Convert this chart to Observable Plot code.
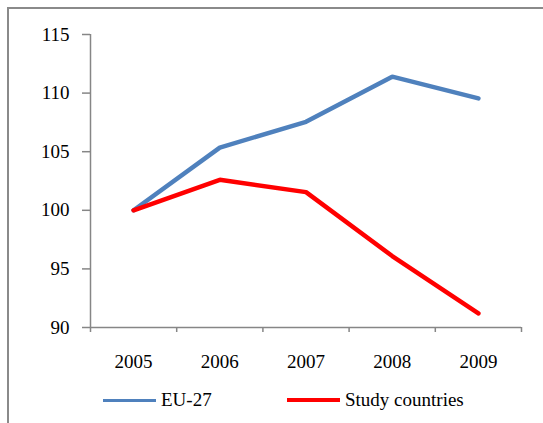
<!DOCTYPE html>
<html>
<head>
<meta charset="utf-8">
<script src="https://cdn.jsdelivr.net/npm/d3@7"></script>
<script src="https://cdn.jsdelivr.net/npm/@observablehq/plot@0.6"></script>
<style>
  html, body { margin: 0; padding: 0; background: #fff; }
  #wrap { position: relative; width: 543px; height: 423px; overflow: hidden; font-family: 'Liberation Serif', serif; }
  #frame { position: absolute; left: 7px; top: 7px; width: 600px; height: 500px; border: 2px solid #8a8a8a; box-sizing: border-box; }
  #chart { position: absolute; left: 0; top: 0; }
  #chart svg text { font-family: 'Liberation Serif', serif !important; }
  .leg { position: absolute; top: 389px; font-size: 19px; color: #000; line-height: 22px; font-family: 'Liberation Serif', serif; }
  .sw { position: absolute; top: 399px; height: 3px; }
</style>
</head>
<body>
<div id="wrap">
  <div id="frame"></div>
  <div id="chart"></div>
</div>
<script>
const years = [2005, 2006, 2007, 2008, 2009];
const eu27 = [100, 105.35, 107.55, 111.4, 109.55];
const study = [100, 102.6, 101.55, 96.1, 91.2];
const yTicks = [90, 95, 100, 105, 110, 115];
const seriesNames = ["EU-27", "Study countries"];
const seriesColors = ["#4F81BD", "#FF0000"];

const data = [
  ...years.map((y, i) => ({year: y, value: eu27[i], series: seriesNames[0]})),
  ...years.map((y, i) => ({year: y, value: study[i], series: seriesNames[1]}))
];
const bounds = [...years.map(y => y - 0.5), years[years.length - 1] + 0.5];
const axisColor = "#868686";

const chart = Plot.plot({
  width: 543,
  height: 423,
  marginLeft: 90,
  marginRight: 22,
  marginTop: 34,
  marginBottom: 96,
  style: {fontSize: "19px", background: "transparent", color: "#000"},
  x: {domain: [bounds[0], bounds[bounds.length - 1]]},
  y: {domain: [90, 115]},
  color: {domain: seriesNames, range: seriesColors},
  marks: [
    Plot.axisY({ticks: yTicks, tickSize: 8, tickPadding: 13, stroke: axisColor, strokeWidth: 1.5, label: null, fill: "#000", tickFormat: d => d}),
    Plot.axisX({ticks: bounds, tickSize: 5, stroke: axisColor, strokeWidth: 1.5, tickFormat: () => "", label: null}),
    Plot.axisX({ticks: years, tickSize: 0, tickPadding: 27, tickFormat: d => String(d), label: null, fill: "#000"}),
    Plot.ruleX([bounds[0]], {y1: 90, y2: 115, stroke: axisColor, strokeWidth: 1.5}),
    Plot.ruleY([90], {x1: bounds[0], x2: bounds[bounds.length - 1], stroke: axisColor, strokeWidth: 1.5}),
    Plot.line(data, {x: "year", y: "value", z: "series", stroke: "series", strokeWidth: 4.5, strokeLinecap: "round", strokeLinejoin: "miter"})
  ]
});
chart.style.fontFamily = "'Liberation Serif', serif";
document.getElementById("chart").appendChild(chart);

// legend
const wrap = document.getElementById("wrap");
const legPos = [{sx: 103, tx: 161}, {sx: 287, tx: 345}];
seriesNames.forEach((name, i) => {
  const sw = document.createElement("div");
  sw.className = "sw";
  sw.style.left = legPos[i].sx + "px";
  sw.style.width = "53px";
  sw.style.background = seriesColors[i];
  if (i === 1) { sw.style.height = "4px"; sw.style.top = "398px"; }
  wrap.appendChild(sw);
  const t = document.createElement("div");
  t.className = "leg";
  t.style.left = legPos[i].tx + "px";
  t.textContent = name;
  wrap.appendChild(t);
});
</script>
</body>
</html>
